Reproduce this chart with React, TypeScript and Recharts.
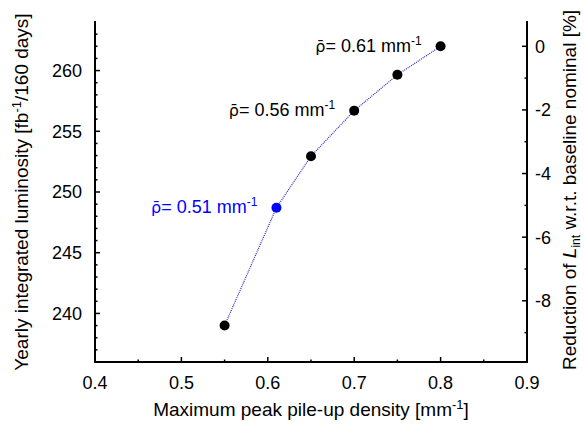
import React from 'react';
import { LineChart, Line, XAxis, YAxis } from 'recharts';

// ---------------- data ----------------
const densities = [0.55, 0.61, 0.65, 0.7, 0.75, 0.8];
const luminosity = [239.0, 248.7, 252.95, 256.7, 259.65, 262.0];
const notes = ['', 'ρ̄= 0.51 mm', '', 'ρ̄= 0.56 mm', '', 'ρ̄= 0.61 mm'];
const nominal = luminosity[luminosity.length - 1];

const xDomain = [0.4, 0.9];
const xMajorTicks = [0.4, 0.5, 0.6, 0.7, 0.8, 0.9];
const xMinorTicks = [0.45, 0.55, 0.65, 0.75, 0.85];
const yLeftDomain = [236, 264];
const yLeftMajorTicks = [240, 245, 250, 255, 260];
const yLeftMinorTicks = [237, 238, 239, 241, 242, 243, 244, 246, 247, 248, 249, 251, 252, 253, 254, 256, 257, 258, 259, 261, 262, 263];
const yRightMajorTicks = [-8, -6, -4, -2, 0];
const yRightMinorTicks = [-9, -7, -5, -3, -1];

const toPct = (v: number) => (v / nominal - 1) * 100;
const yRightDomain = [toPct(yLeftDomain[0]), toPct(yLeftDomain[1])];

const rows = densities.map((x, i) => ({
  x,
  lum: luminosity[i],
  pct: toPct(luminosity[i]),
  note: notes[i],
}));

// ---------------- style ----------------
const FONT = '"Liberation Sans", Arial, Helvetica, sans-serif';
const SYMBOL_FONT = '"DejaVu Sans", sans-serif';
const HIGHLIGHT_INDEX = 1;
const BLUE = '#0000ff';
const LINE_BLUE = '#2a2ac8';
const TICK_FS = 18;
const LABEL_FS = 19;
const NOTE_FS = 18;

const isIn = (v: number, arr: number[]) => arr.some((t) => Math.abs(t - v) < 1e-6);

function BottomTick(props: any) {
  const { x, y, payload } = props;
  const v = payload.value;
  const major = isIn(v, xMajorTicks);
  return (
    <g>
      <line x1={x} x2={x} y1={y} y2={y - (major ? 5 : 2.5)} stroke="#000" strokeWidth={1.5} />
      {major && (
        <text x={x} y={y + 26.5} textAnchor="middle" fontSize={TICK_FS} fontFamily={FONT} fill="#000">
          {v.toFixed(1)}
        </text>
      )}
    </g>
  );
}

function TopTick(props: any) {
  const { x, y, payload } = props;
  const major = isIn(payload.value, xMajorTicks);
  return <line x1={x} x2={x} y1={y} y2={y + (major ? 5 : 2.5)} stroke="#000" strokeWidth={1.5} />;
}

function LeftTick(props: any) {
  const { x, y, payload } = props;
  const v = payload.value;
  const major = isIn(v, yLeftMajorTicks);
  return (
    <g>
      <line x1={x} x2={x + (major ? 5 : 2.5)} y1={y} y2={y} stroke="#000" strokeWidth={1.5} />
      {major && (
        <text x={x - 13} y={y} dy="0.36em" textAnchor="end" fontSize={TICK_FS} fontFamily={FONT} fill="#000">
          {String(v)}
        </text>
      )}
    </g>
  );
}

function RightTick(props: any) {
  const { x, y, payload } = props;
  const v = payload.value;
  const major = isIn(v, yRightMajorTicks);
  return (
    <g>
      <line x1={x} x2={x - (major ? 5 : 2.5)} y1={y} y2={y} stroke="#000" strokeWidth={1.5} />
      {major && (
        <text x={x + 8} y={y} dy="0.36em" textAnchor="start" fontSize={TICK_FS} fontFamily={FONT} fill="#000">
          {String(Math.round(v))}
        </text>
      )}
    </g>
  );
}

function LeftAxisLabel(props: any) {
  const vb = props.viewBox || { x: 0, y: 22, width: 95, height: 340 };
  const cx = vb.x + 28;
  const cy = vb.y + vb.height / 2;
  return (
    <text x={cx} y={cy} transform={`rotate(-90 ${cx} ${cy})`} textAnchor="middle" fontSize={LABEL_FS} fontFamily={FONT} fill="#000">
      Yearly integrated luminosity [fb
      <tspan dy={-7} fontSize={13}>-1</tspan>
      <tspan dy={7}>/160 days]</tspan>
    </text>
  );
}

function RightAxisLabel(props: any) {
  const vb = props.viewBox || { x: 527, y: 22, width: 57, height: 340 };
  const cx = vb.x + 48.5;
  const cy = vb.y + vb.height / 2 - 2;
  return (
    <text x={cx} y={cy} transform={`rotate(-90 ${cx} ${cy})`} textAnchor="middle" fontSize={LABEL_FS} fontFamily={FONT} fill="#000">
      Reduction of <tspan fontStyle="italic">L</tspan>
      <tspan dy={4} fontSize={12}>int</tspan>
      <tspan dy={-4}> w.r.t. baseline nominal [%]</tspan>
    </text>
  );
}

function BottomAxisLabel(props: any) {
  const vb = props.viewBox || { x: 95, y: 362, width: 432, height: 66 };
  const cx = vb.x + vb.width / 2;
  const cy = vb.y + 53.5;
  return (
    <text x={cx} y={cy} textAnchor="middle" fontSize={LABEL_FS} fontFamily={FONT} fill="#000">
      Maximum peak pile-up density [mm
      <tspan dy={-7} fontSize={13}>-1</tspan>
      <tspan dy={7}>]</tspan>
    </text>
  );
}

function PointDot(props: any) {
  const { cx, cy, index, payload } = props;
  if (cx == null || cy == null) return <g key={`d${index}`} />;
  const color = index === HIGHLIGHT_INDEX ? BLUE : '#000';
  const note: string = (payload && payload.note) || '';
  const sym = note.slice(0, 2);
  const rest = note.slice(2);
  return (
    <g key={`d${index}`}>
      <circle cx={cx} cy={cy} r={5} fill={color} stroke="none" />
      {note ? (
        <text x={cx - 19} y={cy - 1} dy="0.36em" textAnchor="end" fontSize={NOTE_FS} fontFamily={FONT} fill={color}>
          <tspan fontFamily={SYMBOL_FONT} fontSize={16}>{sym}</tspan>
          <tspan>{rest}</tspan>
          <tspan dy={-7} fontSize={12}>-1</tspan>
        </text>
      ) : null}
    </g>
  );
}

const frame = { stroke: '#000', strokeWidth: 2, strokeLinecap: 'square' as const };

export default function App() {
  return (
    <div style={{ position: 'absolute', left: 0, top: 0, background: '#fff' }}>
      <LineChart width={584} height={428} data={rows} margin={{ top: 22, right: 0, bottom: 0, left: 0 }}>
        <XAxis
          xAxisId="bottom"
          dataKey="x"
          type="number"
          orientation="bottom"
          domain={xDomain}
          allowDataOverflow
          ticks={[...xMajorTicks, ...xMinorTicks]}
          interval={0}
          height={66}
          tickSize={0}
          tickMargin={0}
          tickLine={false}
          axisLine={frame}
          tick={<BottomTick />}
          label={<BottomAxisLabel />}
        />
        <XAxis
          xAxisId="top"
          dataKey="x"
          type="number"
          orientation="top"
          domain={xDomain}
          allowDataOverflow
          ticks={[...xMajorTicks, ...xMinorTicks]}
          interval={0}
          height={0}
          tickSize={0}
          tickMargin={0}
          tickLine={false}
          axisLine={frame}
          tick={<TopTick />}
        />
        <YAxis
          yAxisId="left"
          type="number"
          orientation="left"
          domain={yLeftDomain}
          allowDataOverflow
          ticks={[...yLeftMajorTicks, ...yLeftMinorTicks]}
          interval={0}
          width={95}
          tickSize={0}
          tickMargin={0}
          tickLine={false}
          axisLine={frame}
          tick={<LeftTick />}
          label={<LeftAxisLabel />}
        />
        <YAxis
          yAxisId="right"
          type="number"
          orientation="right"
          domain={yRightDomain}
          allowDataOverflow
          ticks={[...yRightMajorTicks, ...yRightMinorTicks]}
          interval={0}
          width={57}
          tickSize={0}
          tickMargin={0}
          tickLine={false}
          axisLine={frame}
          tick={<RightTick />}
          label={<RightAxisLabel />}
        />
        <Line
          xAxisId="top"
          yAxisId="right"
          dataKey="pct"
          stroke="none"
          dot={false}
          activeDot={false}
          isAnimationActive={false}
        />
        <Line
          xAxisId="bottom"
          yAxisId="left"
          dataKey="lum"
          stroke={LINE_BLUE}
          strokeWidth={1.2}
          strokeDasharray="1 1"
          dot={PointDot}
          activeDot={false}
          isAnimationActive={false}
        />
      </LineChart>
    </div>
  );
}
